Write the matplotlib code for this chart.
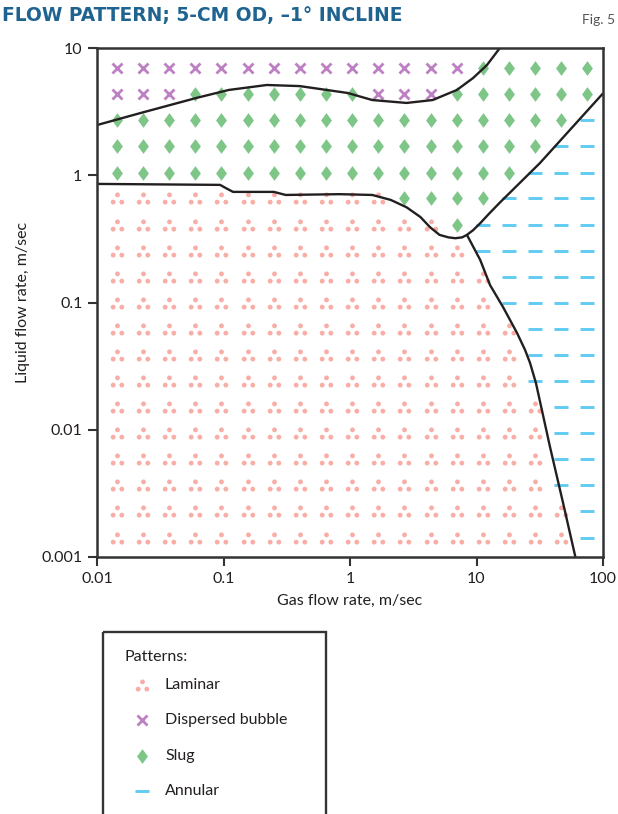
import matplotlib
matplotlib.use("Agg")
import matplotlib.pyplot as plt
from matplotlib.path import Path
from matplotlib.patches import Rectangle

plt.rcParams['font.family'] = ['Lato', 'DejaVu Sans']

# grid of observed points (same rates used on both axes)
gas_rates = [0.0144, 0.0231, 0.0372, 0.0599, 0.0964, 0.155, 0.249, 0.401, 0.646,
             1.04, 1.67, 2.69, 4.33, 6.96, 11.2, 18.0, 29.0, 46.6, 75.0]
liquid_rates = [6.97, 4.35, 2.71, 1.69, 1.05, 0.658, 0.410, 0.256, 0.160, 0.0995,
                0.0621, 0.0387, 0.0242, 0.0151, 0.0094, 0.00586, 0.00366, 0.00228, 0.00142]

# one string per liquid rate, one letter per gas rate
# L = laminar, X = dispersed bubble, S = slug, A = annular
pattern_rows = [
    "XXXXXXXXXXXXXXSSSSS",
    "XXXSSSSSSSXXXSSSSSS",
    "SSSSSSSSSSSSSSSSSSA",
    "SSSSSSSSSSSSSSSSSAA",
    "SSSSSSSSSSSSSSSSAAA",
    "LLLLLLLLLLLSSSSAAAA",
    "LLLLLLLLLLLLLSAAAAA",
    "LLLLLLLLLLLLLLAAAAA",
    "LLLLLLLLLLLLLLLAAAA",
    "LLLLLLLLLLLLLLLAAAA",
    "LLLLLLLLLLLLLLLLAAA",
    "LLLLLLLLLLLLLLLLAAA",
    "LLLLLLLLLLLLLLLLAAA",
    "LLLLLLLLLLLLLLLLLAA",
    "LLLLLLLLLLLLLLLLLAA",
    "LLLLLLLLLLLLLLLLLAA",
    "LLLLLLLLLLLLLLLLLAA",
    "LLLLLLLLLLLLLLLLLLA",
    "LLLLLLLLLLLLLLLLLLA",
]

# transition boundaries
upper_gas = [0.01, 0.022, 0.061, 0.11, 0.22, 0.40, 0.96, 1.5, 2.8, 4.5, 7.0, 9.4, 12.1, 15.3]
upper_liq = [2.48, 3.08, 4.05, 4.68, 5.12, 5.02, 4.43, 3.90, 3.70, 3.90, 4.68, 5.81, 7.35, 10.0]

lower_gas = [0.01, 0.094, 0.105, 0.119, 0.25, 0.31, 0.83, 1.5, 2.1, 2.8, 3.6, 4.3,
             5.1, 6.0, 6.8, 7.7, 8.4, 9.4, 10.7, 12.6, 15.3, 31.8, 100]
lower_liq = [0.855, 0.84, 0.79, 0.74, 0.74, 0.70, 0.71, 0.70, 0.64, 0.56, 0.47, 0.39,
             0.34, 0.325, 0.32, 0.325, 0.34, 0.37, 0.42, 0.50, 0.61, 1.25, 4.4]

annular_gas = [8.4, 10.7, 12.8, 16.2, 20.9, 24.2, 26.5, 29.5, 38.1, 48.3, 60.5]
annular_liq = [0.34, 0.216, 0.137, 0.0922, 0.0577, 0.0424, 0.0335, 0.0233, 0.00734, 0.00267, 0.001]

# marker shapes
laminar_mark = Path.make_compound_path(Path.circle((0, 3.6), 2.4),
                                       Path.circle((-4.3, -3.6), 2.4),
                                       Path.circle((4.3, -3.6), 2.4))
slug_mark = Path([(0, 7.2), (5.3, 0), (0, -7.2), (-5.3, 0), (0, 7.2)],
                 [Path.MOVETO, Path.LINETO, Path.LINETO, Path.LINETO, Path.CLOSEPOLY])

styles = {
    'L': dict(marker=laminar_mark, ms=9.7, color='#f8ada7', mew=0),
    'X': dict(marker='x', ms=6.6, color='#bd80c2', mew=2.0),
    'S': dict(marker=slug_mark, ms=10.6, color='#7dc687', mew=0),
    'A': dict(marker='_', ms=9.6, color='#62cbf3', mew=2.1),
}

fig = plt.figure(figsize=(6.18, 8.14), dpi=100)
ax = fig.add_axes([97/618, 1 - 557/814, 506/618, 509/814])

for key, st in styles.items():
    xs, ys = [], []
    for liq, row in zip(liquid_rates, pattern_rows):
        for gas, c in zip(gas_rates, row):
            if c == key:
                xs.append(gas)
                ys.append(liq)
    ax.plot(xs, ys, linestyle='none', **st)

line_kw = dict(color='#231f20', lw=1.7, solid_capstyle='butt', solid_joinstyle='round')
ax.plot(upper_gas, upper_liq, **line_kw)
ax.plot(lower_gas, lower_liq, **line_kw)
ax.plot(annular_gas, annular_liq, **line_kw)

ax.set_xscale('log')
ax.set_yscale('log')
ax.set_xlim(0.01, 100)
ax.set_ylim(0.001, 10)
ax.set_xticks([0.01, 0.1, 1, 10, 100])
ax.set_xticklabels(['0.01', '0.1', '1', '10', '100'])
ax.set_yticks([0.001, 0.01, 0.1, 1, 10])
ax.set_yticklabels(['0.001', '0.01', '0.1', '1', '10'])
ax.minorticks_off()
ax.tick_params(length=6.5, width=1.5, color='#333333', labelsize=11.5,
               labelcolor='#231f20', pad=4)
for sp in ax.spines.values():
    sp.set_linewidth(1.8)
    sp.set_color('#333333')

ax.set_xlabel('Gas flow rate, m/sec', fontsize=11.5, color='#231f20', labelpad=6)
ax.set_ylabel('Liquid flow rate, m/sec', fontsize=11.5, color='#231f20', labelpad=8)

# title and figure number
fig.text(2/618, 1 - 16/814, 'FLOW PATTERN; 5-CM OD, \u20131\u00b0 INCLINE',
         ha='left', va='center', fontsize=13.4, fontweight='bold',
         color='#1f6390', family=['DejaVu Sans'])
fig.text(615/618, 1 - 20/814, 'Fig. 5', ha='right', va='center', fontsize=10,
         color='#555555')

# legend box drawn in pixel space
lax = fig.add_axes([0, 0, 1, 1])
lax.set_xlim(0, 618)
lax.set_ylim(814, 0)
lax.axis('off')
lax.add_patch(Rectangle((103, 632), 223, 200, fill=False, lw=1.7, ec='#333333'))
lax.text(124, 657, 'Patterns:', fontsize=11.5, va='center', color='#231f20')
names = ['Laminar', 'Dispersed bubble', 'Slug', 'Annular']
for i, (key, name) in enumerate(zip(['L', 'X', 'S', 'A'], names)):
    y = 685 + i * 35.3
    lax.plot([142], [y], linestyle='none', **styles[key])
    lax.text(165, y, name, fontsize=11.5, va='center', color='#231f20')

fig.savefig('out.png', dpi=100)
